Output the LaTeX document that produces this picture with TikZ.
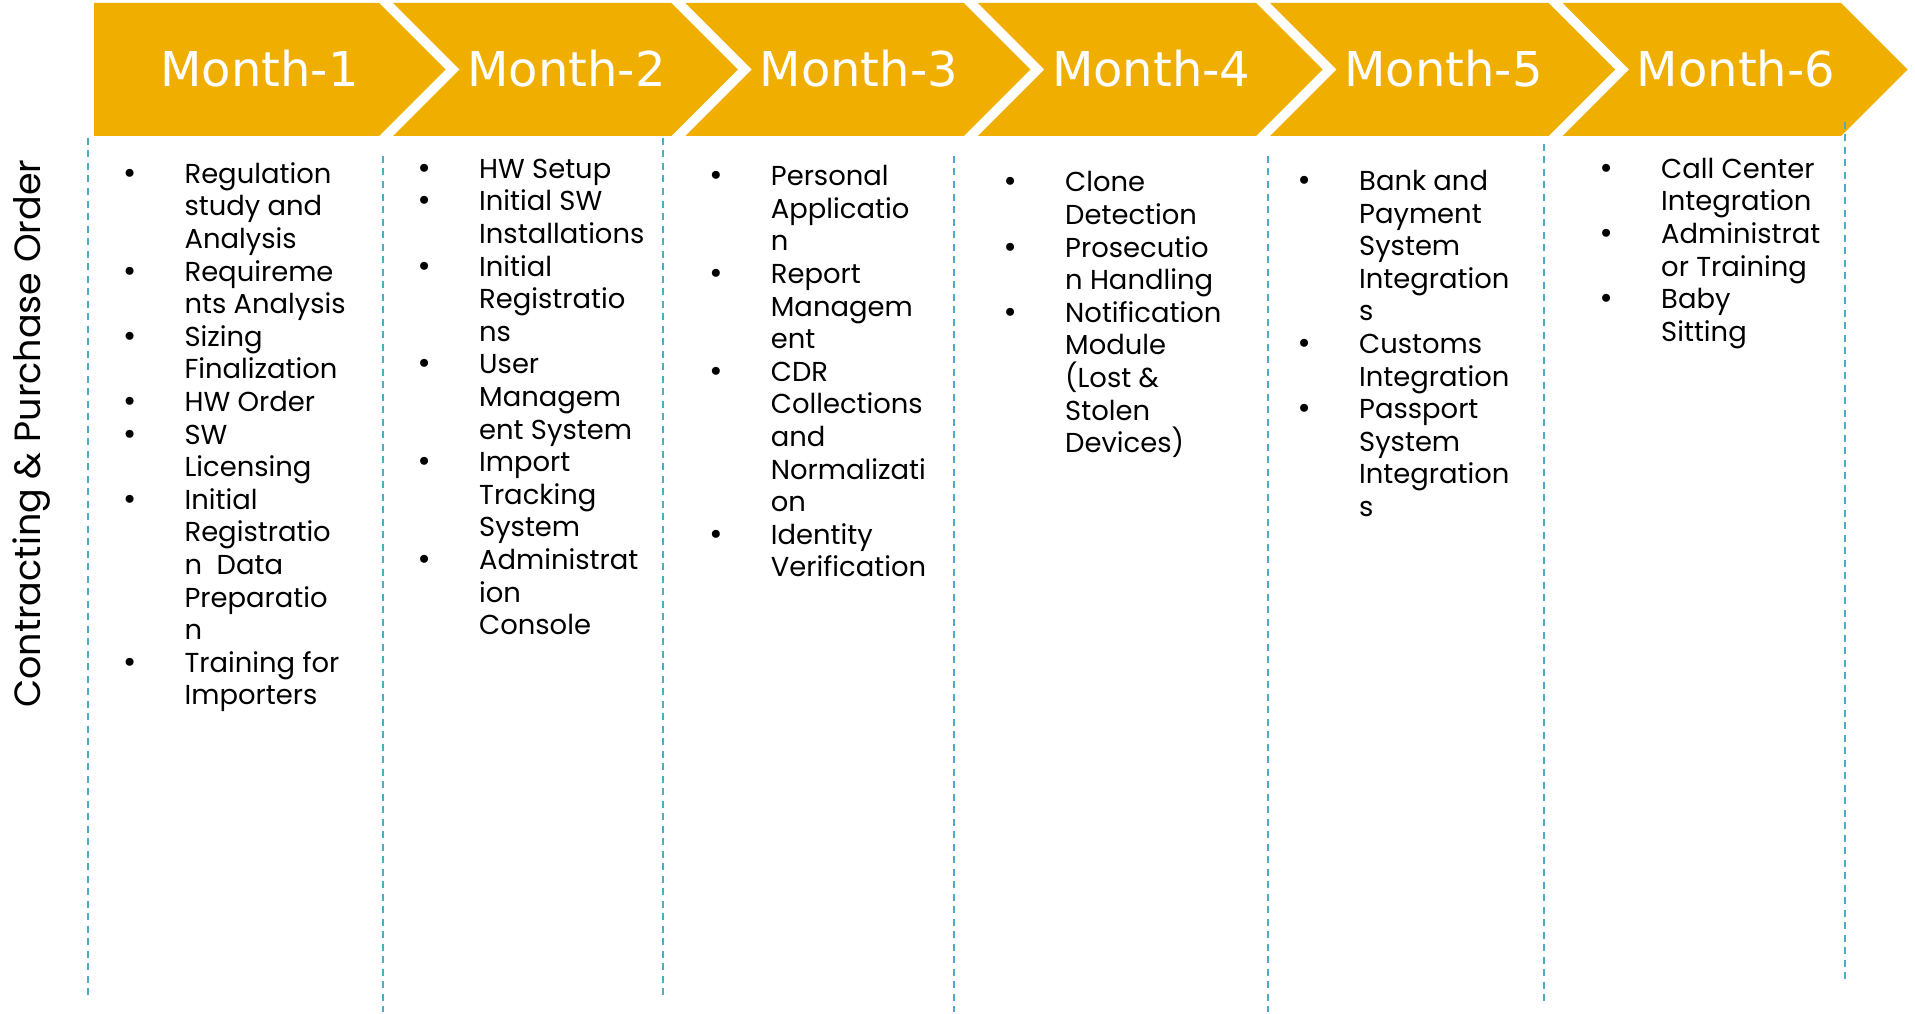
\documentclass[tikz,border=0pt]{standalone}
\usepackage{fontspec}
\setmainfont{Poppins}
\newfontfamily\headfont{DejaVu Sans}
\newfontfamily\dotfont{DejaVu Sans}

\definecolor{monthgold}{RGB}{240,174,0}
\definecolor{guideblue}{RGB}{75,172,198}

\newcommand{\bl}{\makebox[55pt][l]{\makebox[0pt]{\dotfont\textbullet}}}
\newcommand{\ind}{\hspace*{55pt}}

\begin{document}
\begin{tikzpicture}[x=1pt,y=-1pt]
        \tikzset{month/.style={font=\headfont\fontsize{48}{58}\selectfont, text=white, anchor=base, inner sep=0pt},
            tasks/.style={font=\fontsize{27.4}{32.6}\selectfont, align=left, anchor=north west, inner sep=0pt},
            phase/.style={font=\fontsize{36.5}{44}\selectfont, rotate=90, anchor=base west, inner sep=0pt},
            guide/.style={draw=guideblue, line width=1.6pt, dash pattern=on 7pt off 5.5pt}}
        \useasboundingbox (0,0) rectangle (1915,1014);
        % chevrons
        \fill[monthgold] (94,3) -- (379,3) -- (445.5,69.5) -- (379,136) -- (94,136) -- cycle;
        \foreach \k in {1,...,5} {
            \pgfmathsetmacro\r{379+292.4*\k}
            \pgfmathsetmacro\l{\r-278.4}
            \fill[monthgold] (\l,3) -- (\r,3) -- (\r+66.5,69.5) -- (\r,136) -- (\l,136) -- (\l+66.5,69.5) -- cycle;
        }
        \node[month] (m1) at (259.5,87) {Month-1};
        \foreach \k in {2,...,6}
            \node[month] (m\k) at ({274+292.4*(\k-1)},87) {Month-\k};
        % separators
        \foreach \x/\a/\b in {88/138/999, 383/156/1012, 663/138/999, 954/156/1012, 1268/156/1012, 1544/144/1004, 1845/122/983}
            \draw[guide] (\x,\a) -- (\x,\b);
        \node[phase] (contract) at (40,708) {Contracting \& Purchase Order};
        \node[tasks] (t1) at (129.4,160.2) {\strut\bl Regulation\\ \ind study and\\ \ind Analysis\\
            \bl Requireme\\ \ind nts Analysis\\ \bl Sizing\\ \ind Finalization\\ \bl HW Order\\
            \bl SW\\ \ind Licensing\\ \bl Initial\\ \ind Registratio\\ \ind n\ \ Data\\
            \ind Preparatio\\ \ind n\\ \bl Training for\\ \ind Importers};
        \node[tasks] (t2) at (424,155.2) {\strut\bl HW Setup\\ \bl Initial SW\\ \ind Installations\\
            \bl Initial\\ \ind Registratio\\ \ind ns\\ \bl User\\ \ind Managem\\ \ind ent System\\
            \bl Import\\ \ind Tracking\\ \ind System\\ \bl Administrat\\ \ind ion\\ \ind Console};
        \node[tasks] (t3) at (715.7,162.7) {\strut\bl Personal\\ \ind Applicatio\\ \ind n\\
            \bl Report\\ \ind Managem\\ \ind ent\\ \bl CDR\\ \ind Collections\\ \ind and\\
            \ind Normalizati\\ \ind on\\ \bl Identity\\ \ind Verification};
        \node[tasks] (t4) at (1010,168.8) {\strut\bl Clone\\ \ind Detection\\ \bl Prosecutio\\
            \ind n Handling\\ \bl Notification\\ \ind Module\\ \ind (Lost \&\\ \ind Stolen\\ \ind Devices)};
        \node[tasks] (t5) at (1304,167.5) {\strut\bl Bank and\\ \ind Payment\\ \ind System\\
            \ind Integration\\ \ind s\\ \bl Customs\\ \ind Integration\\ \bl Passport\\
            \ind System\\ \ind Integration\\ \ind s};
        \node[tasks] (t6) at (1606,155.2) {\strut\bl Call Center\\ \ind Integration\\
            \bl Administrat\\ \ind or Training\\ \bl Baby\\ \ind Sitting};
\end{tikzpicture}
\end{document}
